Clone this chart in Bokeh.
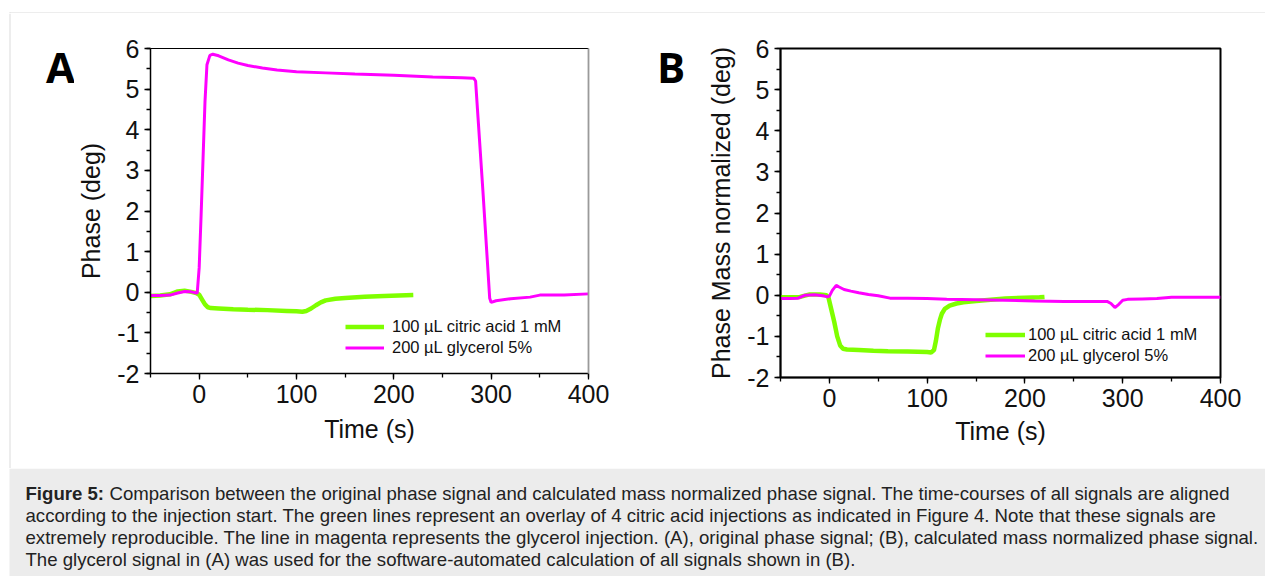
from bokeh.plotting import figure
from bokeh.models import (Range1d, LinearAxis, SingleIntervalTicker, FixedTicker, Legend,
                          LegendItem)
from bokeh.layouts import column, row
from bokeh.embed import file_html
from bokeh.resources import INLINE
from bokeh.core.properties import value

# ---------------- data ----------------
# Panel A: original phase signal
a_cit_t = [-50, -40, -30, -22, -15, -8, -3, 0, 3, 6, 9, 12, 20, 35, 50, 70, 90, 100, 106,
           110, 115, 120, 125, 130, 140, 150, 170, 190, 205, 220]
a_cit_y = [-0.09, -0.08, -0.05, 0.02, 0.04, 0.01, -0.02, -0.06, -0.18, -0.30, -0.37, -0.39,
           -0.40, -0.42, -0.43, -0.44, -0.46, -0.47, -0.48, -0.46, -0.40, -0.32, -0.25, -0.20,
           -0.16, -0.14, -0.11, -0.09, -0.08, -0.07]
a_gly_t = [-50, -40, -30, -22, -15, -8, -3, -2, 0, 2, 4, 6, 8, 11, 14, 20, 30, 40, 50, 65,
           80, 100, 130, 160, 200, 240, 270, 282, 284, 286.5, 291.5, 296, 298.5, 300, 305,
           320, 340, 350, 375, 400]
a_gly_y = [-0.08, -0.08, -0.07, -0.02, 0.02, 0.01, -0.02, -0.02, 0.6, 1.9, 3.3, 4.7, 5.6,
           5.83, 5.86, 5.82, 5.72, 5.64, 5.58, 5.52, 5.47, 5.43, 5.40, 5.37, 5.34, 5.30, 5.28,
           5.27, 5.20, 4.30, 2.50, 0.80, -0.15, -0.25, -0.21, -0.16, -0.12, -0.07, -0.07, -0.04]

# Panel B: mass normalized phase signal
b_cit_t = [-50, -40, -30, -20, -10, -3, -1, 2, 5, 8, 11, 14, 18, 30, 45, 60, 80, 100, 104,
           107, 109, 111, 113, 115, 118, 123, 130, 137, 150, 165, 180, 200, 215, 220]
b_cit_y = [-0.05, -0.05, -0.04, 0.02, 0.02, 0.00, -0.05, -0.35, -0.65, -1.00, -1.22, -1.30,
           -1.32, -1.33, -1.35, -1.36, -1.37, -1.38, -1.39, -1.33, -1.10, -0.80, -0.60, -0.45,
           -0.33, -0.25, -0.20, -0.17, -0.14, -0.11, -0.08, -0.06, -0.05, -0.04]
b_gly_t = [-50, -40, -32, -25, -15, -5, -2, 0, 3, 7, 10, 15, 22, 30, 40, 50, 62, 80, 100,
           120, 150, 180, 210, 240, 270, 284, 288, 292, 296, 300, 305, 320, 335, 350, 370, 400]
b_gly_y = [-0.08, -0.08, -0.07, 0.00, 0.01, -0.02, -0.04, -0.02, 0.12, 0.24, 0.20, 0.14,
           0.10, 0.06, 0.02, -0.01, -0.07, -0.07, -0.08, -0.10, -0.11, -0.12, -0.14, -0.15,
           -0.15, -0.15, -0.20, -0.30, -0.22, -0.12, -0.10, -0.09, -0.08, -0.05, -0.05, -0.05]

series_labels = ["100 \u00b5L citric acid 1 mM", "200 \u00b5L glycerol 5%"]
x_ticks_interval = 100
y_ticks_interval = 1
y_label_overrides = {-2: "-2", -1: "-1"}

caption_bold = "Figure 5:"
caption_lines = [
    "Comparison between the original phase signal and calculated mass normalized phase signal. The time-courses of all signals are aligned",
    "according to the injection start. The green lines represent an overlay of 4 citric acid injections as indicated in Figure 4. Note that these signals are",
    "extremely reproducible. The line in magenta represents the glycerol injection. (A), original phase signal; (B), calculated mass normalized phase signal.",
    "The glycerol signal in (A) was used for the software-automated calculation of all signals shown in (B).",
]

GREEN = "#7fff00"
MAGENTA = "#ff00ff"
FONT = "Liberation Sans"
BORDER = "#dcdcdc"
CAP_BG = "#ececec"

W = 1265
TOP_H = 13
ROW_H = 455
CAP_H = 108


def no_align(f):
    if "frame_align" in f.properties():
        f.frame_align = False
    return f


def blank(width, height, bg="white"):
    f = figure(width=width, height=height, x_range=Range1d(0, width),
               y_range=Range1d(height, 0), output_backend="svg", toolbar_location=None,
               min_border=0, x_axis_location=None, y_axis_location=None)
    f.grid.visible = False
    f.outline_line_color = None
    f.background_fill_color = bg
    f.border_fill_color = bg
    return no_align(f)


def make_panel(width, borders, ylabel, legend_pos, glyph_w, label_standoff,
               cit_t, cit_y, gly_t, gly_y, frame_style, xlab_standoff):
    bl, br, bt, bb = borders
    p = figure(width=width, height=ROW_H, x_range=Range1d(-50, 400), y_range=Range1d(-2, 6),
               output_backend="svg", toolbar_location=None,
               min_border_left=bl, min_border_right=br, min_border_top=bt, min_border_bottom=bb,
               x_axis_label="Time (s)", y_axis_label=ylabel)
    no_align(p)
    p.grid.visible = False
    p.background_fill_color = "white"
    p.border_fill_color = "white"
    p.xaxis.ticker = SingleIntervalTicker(interval=x_ticks_interval, num_minor_ticks=2)
    p.yaxis.ticker = SingleIntervalTicker(interval=y_ticks_interval, num_minor_ticks=2)
    p.yaxis.major_label_overrides = y_label_overrides
    for ax in (p.xaxis[0], p.yaxis[0]):
        ax.axis_line_color = "black"
        ax.axis_line_width = 1.5
        ax.major_tick_line_color = "black"
        ax.major_tick_line_width = 1.3
        ax.minor_tick_line_color = "black"
        ax.minor_tick_line_width = 1.3
        ax.major_tick_in = 0
        ax.major_tick_out = 6
        ax.minor_tick_in = 0
        ax.minor_tick_out = 4
        ax.major_label_text_font = FONT
        ax.major_label_text_font_size = "25px"
        ax.major_label_text_color = "#111111"
        ax.major_label_standoff = 5
        ax.axis_label_text_font = FONT
        ax.axis_label_text_font_size = "25px"
        ax.axis_label_text_font_style = "normal"
        ax.axis_label_text_color = "#111111"
    p.xaxis.axis_label_standoff = xlab_standoff
    p.yaxis.axis_label_standoff = 9

    if frame_style == "A":
        p.outline_line_color = None
        top = LinearAxis(ticker=FixedTicker(ticks=[]), axis_line_color="black", axis_line_width=1)
        right = LinearAxis(ticker=FixedTicker(ticks=[]), axis_line_color="#9a9a9a", axis_line_width=1.8)
        p.add_layout(top, "above")
        p.add_layout(right, "right")
    else:
        p.outline_line_color = "black"
        p.outline_line_width = 2

    r_cit = p.line(cit_t, cit_y, line_color=GREEN, line_width=4.5)
    r_gly = p.line(gly_t, gly_y, line_color=MAGENTA, line_width=3)

    legend = Legend(items=[LegendItem(label=series_labels[0], renderers=[r_cit]),
                           LegendItem(label=series_labels[1], renderers=[r_gly])],
                    location=legend_pos, orientation="vertical",
                    glyph_width=glyph_w, glyph_height=21, label_height=21,
                    label_standoff=label_standoff, spacing=0, padding=0, margin=0,
                    border_line_color=None, background_fill_alpha=0,
                    label_text_font=FONT, label_text_font_size="16.5px",
                    label_text_color="#111111")
    p.add_layout(legend)
    return p


# top strip with the light frame line
strip = blank(W, TOP_H)
strip.quad(left=[9, 9], right=[W, 10], top=[12, 12], bottom=[13, TOP_H],
           fill_color=BORDER, line_color=None)

# letter A column (also carries the left frame line)
la = blank(74, ROW_H)
la.quad(left=[9], right=[10], top=[0], bottom=[ROW_H], fill_color=BORDER, line_color=None)
la.text(x=[60], y=[52.5], text=["A"], text_font=value("Open Sans"), text_font_size="42px",
        text_font_style="bold", text_align="center", text_baseline="middle",
        text_color="black")

pA = make_panel(566, (74, 52, 35, 95), "Phase (deg)", (195, 15), 39, 8,
                a_cit_t, a_cit_y, a_gly_t, a_gly_y, "A", 9)

lb = blank(64, ROW_H)
lb.text(x=[30.5], y=[52.5], text=["B"], text_font=value("Open Sans"), text_font_size="42px",
        text_font_style="bold", text_align="center", text_baseline="middle",
        text_color="black")

pB = make_panel(561, (72, 45, 35, 91), "Phase Mass normalized (deg)", (205, 11), 40, 3,
                b_cit_t, b_cit_y, b_gly_t, b_gly_y, "B", 7)

# ---------------- caption ----------------
cap = blank(W, CAP_H)
cap.quad(left=[9], right=[W], top=[0], bottom=[CAP_H], fill_color=CAP_BG, line_color=None)
x0 = 25
line_y = [25, 47, 69, 91]
cap_font = "18.6px"
cap.text(x=[x0], y=[line_y[0]], text=[caption_bold], text_font=value(FONT),
         text_font_size=cap_font, text_font_style="bold", text_baseline="middle",
         text_color="#222222")
cap.text(x=[x0 + 84], y=[line_y[0]], text=[caption_lines[0]], text_font=value(FONT),
         text_font_size=cap_font, text_baseline="middle", text_color="#222222")
cap.text(x=[x0] * 3, y=line_y[1:], text=caption_lines[1:], text_font=value(FONT),
         text_font_size=cap_font, text_baseline="middle", text_color="#222222")

layout = column(strip, row(la, pA, lb, pB, spacing=0), cap, spacing=0)

open("out.html", "w").write(file_html(layout, INLINE))
